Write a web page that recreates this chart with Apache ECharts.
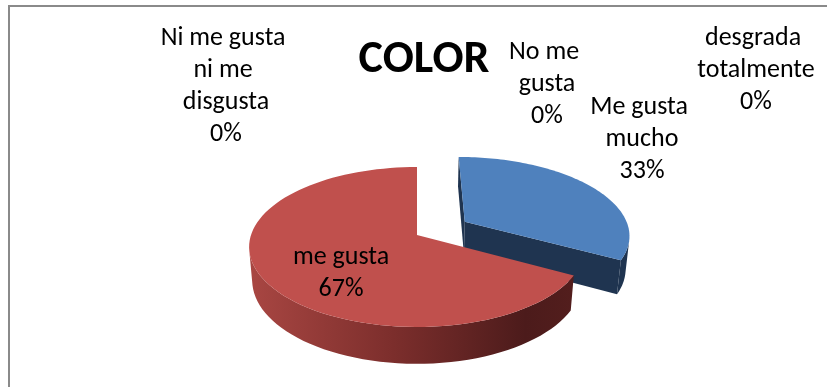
<!DOCTYPE html>
<html><head><meta charset="utf-8">
<script src="https://cdn.jsdelivr.net/npm/echarts@6/dist/echarts.min.js"></script>
<style>html,body{margin:0;padding:0;background:#fff}#c{width:827px;height:387px}</style>
</head><body><div id="c"></div>
<script>
// ---- data ----
const categories = ['Me gusta mucho', 'me gusta', 'Ni me gusta ni me disgusta', 'No me gusta', 'desgrada totalmente'];
const values = [33, 67, 0, 0, 0];
const titleText = 'COLOR';

// ---- layout / style ----
const FONT = 'Carlito, Lato, sans-serif';
const labelLayout = [
  {x: 642, y: 139, w: 114},
  {x: 341, y: 273, w: 130},
  {x: 226, y: 86,  w: 140},
  {x: 547, y: 84,  w: 84},
  {x: 756, y: 70,  w: 136}
];
const explode = [0.343, 0, 0, 0, 0];
const topColors = ['#4F81BD', '#C0504D', '#9BBB59', '#8064A2', '#4BACC6'];
const sideColors = [
  '#1F3450',
  {type: 'linear', x: 245, y: 0, x2: 575, y2: 0, global: true,
   colorStops: [{offset: 0, color: '#AA4743'}, {offset: 0.45, color: '#7C2E2C'},
                {offset: 0.85, color: '#4C1B1B'}, {offset: 1, color: '#531E1D'}]},
  '#5E7530', '#4C3B61', '#2D6776'
];

// ---- 3D projection ----
const G = {cx: 417, cy: 235, A: 166, sin: 0.471, cos: 0.882, k: 0.15, h: 0.2300};
const D = G.cos / G.k, F = G.A * D;
const cam = [0, D * G.sin, -D * G.cos];
function proj(X, Y, Z) {
  const w = Z * G.cos - Y * G.sin;
  const s = F / (D + w);
  return [G.cx + s * X, G.cy - s * (Z * G.sin + Y * G.cos)];
}
function visible(p, n) {
  return (cam[0] - p[0]) * n[0] + (cam[1] - p[1]) * n[1] + (cam[2] - p[2]) * n[2] > 0;
}
const total = values.reduce((a, b) => a + b, 0);
const cum = [0];
values.forEach(v => cum.push(cum[cum.length - 1] + v));

function renderItem(params, api) {
  const i = params.dataIndex;
  const v = api.value(0);
  const children = [];
  const pct = Math.round(v / total * 100) + '%';
  if (v > 0) {
    const t0 = cum[i] / total * Math.PI * 2;
    const t1 = (cum[i] + v) / total * Math.PI * 2;
    const mid = (t0 + t1) / 2;
    const e = explode[i];
    const ox = e * Math.sin(mid), oz = e * Math.cos(mid);
    const H = -G.h;
    const N = 90;
    const arc = [];
    for (let j = 0; j <= N; j++) arc.push(t0 + (t1 - t0) * j / N);
    const z2 = i * 10;
    // cut faces
    if (t1 - t0 < Math.PI * 2 - 1e-6) {
      [[t0, t0 - Math.PI / 2], [t1, t1 + Math.PI / 2]].forEach(([t, nt]) => {
        const n = [Math.sin(nt), 0, Math.cos(nt)];
        if (visible([ox, H / 2, oz], n) && visible([ox + Math.sin(t) * 0.5, H / 2, oz + Math.cos(t) * 0.5], n)) {
          const ex = ox + Math.sin(t), ez = oz + Math.cos(t);
          children.push({type: 'polygon', z2: z2 + 1,
            shape: {points: [proj(ox, 0, oz), proj(ex, 0, ez), proj(ex, H, ez), proj(ox, H, oz)]},
            style: {fill: sideColors[i]}});
        }
      });
    }
    // outer side (visible runs)
    let run = [];
    const flush = () => {
      if (run.length > 1) {
        const pts = run.map(t => proj(ox + Math.sin(t), 0, oz + Math.cos(t)));
        for (let j = run.length - 1; j >= 0; j--) pts.push(proj(ox + Math.sin(run[j]), H, oz + Math.cos(run[j])));
        children.push({type: 'polygon', z2: z2 + 2, shape: {points: pts}, style: {fill: sideColors[i]}});
      }
      run = [];
    };
    arc.forEach(t => {
      const n = [Math.sin(t), 0, Math.cos(t)];
      if (visible([ox + n[0], H / 2, oz + n[2]], n)) run.push(t); else flush();
    });
    flush();
    // top face
    const topPts = [proj(ox, 0, oz)].concat(arc.map(t => proj(ox + Math.sin(t), 0, oz + Math.cos(t))));
    children.push({type: 'polygon', z2: z2 + 3, shape: {points: topPts}, style: {fill: topColors[i]}});
  }
  const L = labelLayout[i];
  children.push({type: 'text', z2: 100,
    style: {text: api.value(1) + '\n' + pct, x: L.x, y: L.y, align: 'center', verticalAlign: 'middle',
            width: L.w, overflow: 'break', font: '26px ' + FONT, lineHeight: 32, fill: '#000'}});
  return {type: 'group', children};
}

const chart = echarts.init(document.getElementById('c'));
chart.setOption({
  animation: false,
  title: {text: titleText, left: 424, top: 37, textAlign: 'center', padding: 0,
          textStyle: {fontSize: 46, fontWeight: 'bold', fontFamily: FONT, color: '#000'}},
  graphic: [{type: 'rect', shape: {x: 9, y: 6, width: 900, height: 500},
             style: {fill: 'none', stroke: '#8A8A8A', lineWidth: 2}, silent: true}],
  series: [{
    type: 'custom',
    coordinateSystem: 'none',
    renderItem,
    data: values.map((v, i) => [v, categories[i]])
  }]
});
</script></body></html>
